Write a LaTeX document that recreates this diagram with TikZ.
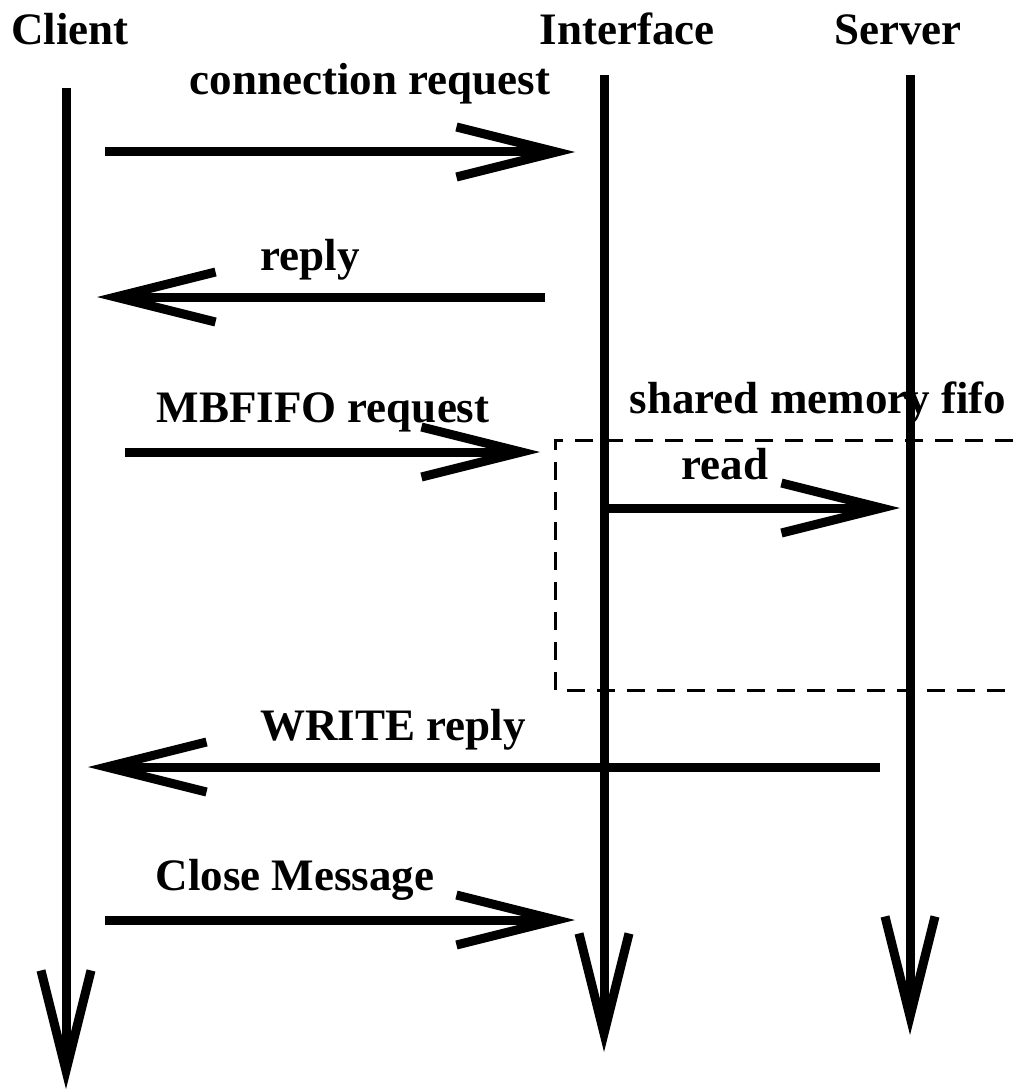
\documentclass[tikz,border=0pt]{standalone}
\usepackage{fontspec}
\setmainfont{Liberation Serif}
\usetikzlibrary{arrows.meta}
\tikzset{
  lbl/.style={font=\bfseries\fontsize{45}{50}\selectfont, anchor=base, inner sep=0pt},
  barb/.style={-{Straight Barb[sharp, length=100pt, width=50pt, line width=9pt]}},
  lifeline/.style={line width=9pt, barb},
  msg/.style={line width=9pt, barb},
  region/.style={line width=3pt, dash pattern=on 18pt off 12pt}
}
\begin{document}
\begin{tikzpicture}[x=1pt, y=-1pt]
  \useasboundingbox (0,0) rectangle (1013,1091);

  % participants
  \node[lbl] (client) at (70,45) {Client};
  \node[lbl] (iface) at (627,45) {Interface};
  \node[lbl] (server) at (898,45) {Server};

  % lifelines
  \coordinate (c-top) at (66,88);
  \coordinate (c-bot) at (66,1089);
  \coordinate (i-top) at (604,75);
  \coordinate (i-bot) at (604,1052);
  \coordinate (s-top) at (910,75);
  \coordinate (s-bot) at (910,1035);

  % shared memory region (open on the right)
  \node[lbl] (shm) at (818,413) {shared memory fifo};
  \coordinate (r-tr) at (1013,440);
  \coordinate (r-tl) at (555,440);
  \coordinate (r-bl) at (555,690);
  \coordinate (r-br) at (1013,690);
  \draw[region] (r-tr) -- (r-tl) -- (r-bl) -- (r-br);

  \draw[lifeline] (c-top) -- (c-bot);
  \draw[lifeline] (i-top) -- (i-bot);
  \draw[lifeline] (s-top) -- (s-bot);

  % connection request
  \node[lbl] (l1) at (370,95) {connection request};
  \coordinate (m1a) at (105,152);
  \coordinate (m1b) at (575,152);
  \draw[msg] (m1a) -- (m1b);

  % reply
  \node[lbl] (l2) at (310,270) {reply};
  \coordinate (m2a) at (545,297);
  \coordinate (m2b) at (97,297);
  \draw[msg] (m2a) -- (m2b);

  % MBFIFO request
  \node[lbl] (l3) at (323,422) {MBFIFO request};
  \coordinate (m3a) at (125,452);
  \coordinate (m3b) at (540,452);
  \draw[msg] (m3a) -- (m3b);

  % read
  \node[lbl] (l4) at (725,479) {read};
  \coordinate (m4a) at (604,508);
  \coordinate (m4b) at (900,508);
  \draw[msg] (m4a) -- (m4b);

  % WRITE reply
  \node[lbl] (l5) at (393,740) {WRITE reply};
  \coordinate (m5a) at (880,767);
  \coordinate (m5b) at (88,767);
  \draw[msg] (m5a) -- (m5b);

  % Close Message
  \node[lbl] (l6) at (295,890) {Close Message};
  \coordinate (m6a) at (105,920);
  \coordinate (m6b) at (575,920);
  \draw[msg] (m6a) -- (m6b);
\end{tikzpicture}
\end{document}
